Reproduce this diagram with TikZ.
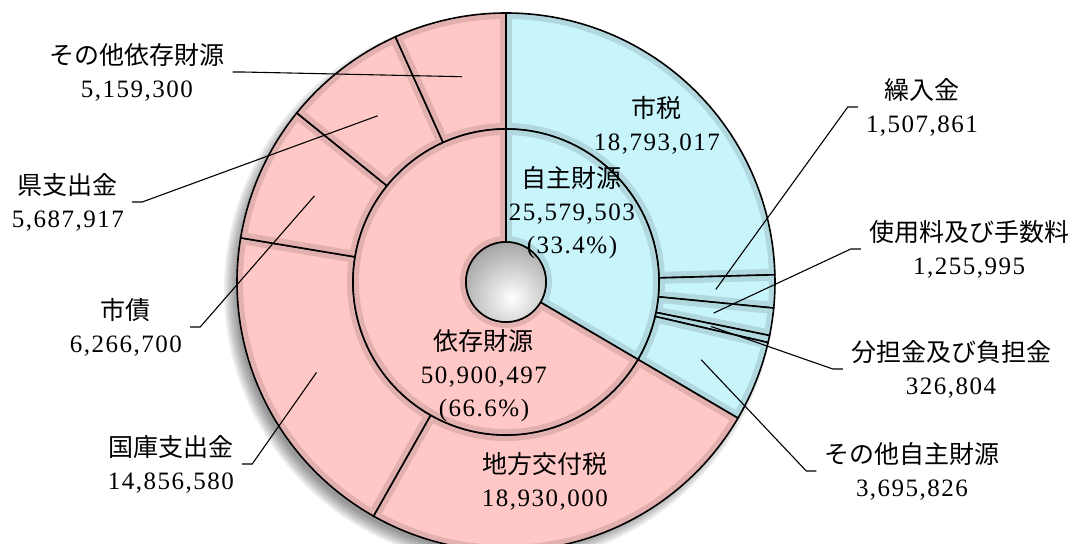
\documentclass[tikz,border=0pt]{standalone}
\usepackage{fontspec}
\newfontfamily\jpfont{Noto Sans CJK JP}
\newfontfamily\numfont[LetterSpace=6]{Liberation Serif}
\definecolor{izon}{HTML}{FFC8C6}
\definecolor{jishu}{HTML}{C8F4FB}

% one piece of a ring: inner radius, outer radius, start angle, end angle, colour
\newcommand\ringpart[5]{%
  \begin{scope}
    \clip (#3:#2pt) arc[start angle=#3,end angle=#4,radius=#2pt] -- (#4:#1pt) arc[start angle=#4,end angle=#3,radius=#1pt] -- cycle;
    \fill[#5] (#3:#2pt) arc[start angle=#3,end angle=#4,radius=#2pt] -- (#4:#1pt) arc[start angle=#4,end angle=#3,radius=#1pt] -- cycle;
    \draw[#5!86!black,line width=12pt,opacity=0.8] (#3:#2pt) arc[start angle=#3,end angle=#4,radius=#2pt] -- (#4:#1pt) arc[start angle=#4,end angle=#3,radius=#1pt] -- cycle;
  \end{scope}
  \draw[rim] (#3:#2pt) arc[start angle=#3,end angle=#4,radius=#2pt] -- (#4:#1pt) arc[start angle=#4,end angle=#3,radius=#1pt] -- cycle;
}

\begin{document}
\begin{tikzpicture}[x=1pt,y=1pt]
\tikzstyle{every node}=[font=\jpfont\fontsize{25}{33}\selectfont,align=center,inner sep=8pt];
\tikzstyle{rim}=[draw=black,line width=1.6pt];
\tikzstyle{leader}=[line width=1.1pt];

\useasboundingbox (-506,-262) rectangle (566,282);

% soft shadow
\foreach \s in {1,...,7}
  \fill[black,opacity=0.07] (-7,-8) circle[radius={(261+2*\s)*1pt}];

% outer ring
\foreach \a/\b/\c/\n in {90/1.539/jishu/shizei, 1.539/-5.559/jishu/kurikomi,
  -5.559/-11.471/jishu/shiyoryo, -11.471/-13.009/jishu/buntan,
  -13.009/-30.406/jishu/jishuetc, -30.406/-119.512/izon/kofuzei,
  -119.512/-189.444/izon/kokko, -189.444/-218.942/izon/shisai,
  -218.942/-245.716/izon/kenshi, -245.716/-270/izon/izonetc}
{
  \ringpart{153}{269}{\a}{\b}{\c}
  \coordinate (\n) at ({(\a+\b)/2}:210pt);
}

% inner ring
\ringpart{40}{153}{90}{-30.406}{jishu}
\ringpart{40}{153}{-30.406}{-270}{izon}

% hole
\begin{scope}
  \clip (0,0) circle[radius=40pt];
  \shade[inner color=white,outer color=gray!80] (6,-16) circle[radius=64pt];
\end{scope}
\draw[rim] (0,0) circle[radius=40pt];

% texts in the rings
\node (tshizei) at (151,157) {市税\\{\numfont 18,793,017}};
\node (tjishu) at (66,69) {自主財源\\{\numfont 25,579,503}\\{\numfont (33.4\%)}};
\node (tizon) at (-22,-94) {依存財源\\{\numfont 50,900,497}\\{\numfont (66.6\%)}};
\node (tkofuzei) at (39,-199) {地方交付税\\{\numfont 18,930,000}};

% labels outside
\node (lizonetc) at (-369,210) {その他依存財源\\{\numfont 5,159,300}};
\node (lkenshi) at (-438,80) {県支出金\\{\numfont 5,687,917}};
\node (lshisai) at (-380,-45) {市債\\{\numfont 6,266,700}};
\node (lkokko) at (-335,-182) {国庫支出金\\{\numfont 14,856,580}};
\node (lkurikomi) at (416,175) {繰入金\\{\numfont 1,507,861}};
\node (lshiyoryo) at (463,33) {使用料及び手数料\\{\numfont 1,255,995}};
\node (lbuntan) at (445,-87) {分担金及び負担金\\{\numfont 326,804}};
\node (ljishuetc) at (406,-189) {その他自主財源\\{\numfont 3,695,826}};

\foreach \from/\to in {lizonetc/izonetc, lkenshi/kenshi, lshisai/shisai, lkokko/kokko}
  \draw[leader] (\from.east) -- ++(10,0) -- (\to);
\foreach \from/\to in {lkurikomi/kurikomi, lshiyoryo/shiyoryo, lbuntan/buntan, ljishuetc/jishuetc}
  \draw[leader] (\from.west) -- ++(-10,0) -- (\to);

\end{tikzpicture}
\end{document}
